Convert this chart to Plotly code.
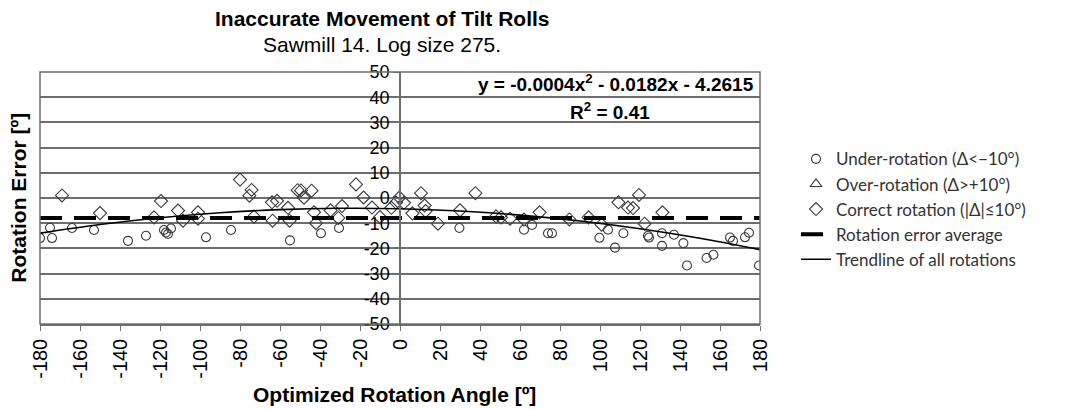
import plotly.graph_objects as go

# Under-rotation points (circles)
under_x = [-180, -175, -174, -164, -153, -136, -127, -118, -117, -116, -114.5, -97, -84.5,
           -55, -39.5, -30.5, 29.7, 62, 66, 74, 76, 99.7, 104, 107.5, 111.7, 124, 124.5,
           131, 131, 137, 141.7, 143.5, 153.3, 156.7, 165, 166.5, 172.5, 174.5, 179.5]
under_y = [-15.9, -11.8, -15.9, -11.9, -12.7, -17, -15, -12.7, -13.7, -14.3, -12.1, -15.6, -12.7,
           -16.8, -14, -11.9, -11.9, -12.6, -10.7, -14, -14, -15.8, -12.6, -19.7, -14, -15, -15.7,
           -14, -19, -14.6, -17.9, -26.8, -23.8, -22.5, -15.7, -17, -15.6, -13.8, -26.8]

# Over-rotation points (triangles) - none in this sample
over_x = [None]
over_y = [None]

# Correct rotation points (diamonds)
correct_x = [-169, -150, -123, -119.5, -111, -108.5, -101, -101, -80, -75.3, -74.2, -73,
             -64, -63.7, -61.5, -56, -55.2, -51.2, -49.5, -48, -44.2, -43, -42, -34.7,
             -30.8, -29, -22, -18.2, -14, -10, -4.3, -2, -0.3, 2, 6.2, 10.5, 12.3, 12.8,
             19, 30, 37.7, 48, 50.5, 55, 62, 69.8, 84.7, 94.3, 100.8, 109.2, 114, 116.5,
             119.5, 122.3, 131.2]
correct_y = [1.0, -6.0, -7.7, -1.2, -5.0, -9.0, -5.7, -8.2, 7.3, 0.9, 3.2, -7.4,
             -1.7, -9.0, -1.1, -3.9, -9.0, 3.1, 3.0, 0.1, 2.9, -5.7, -10.0, -4.9,
             -7.9, -3.2, 5.4, 0.2, -3.8, -7.6, -3.9, -1.8, 0.2, -1.9, -6.1, 1.9, -3.0, -5.2,
             -10.2, -4.9, 1.9, -7.3, -7.7, -8.2, -8.5, -5.7, -8.5, -7.7, -10.6, -1.7, -3.8, -4.0,
             1.2, -10.2, -5.7]

avg_error = -7.9
avg_x = [-180, 180]

trend_x = [-180, -150, -120, -90, -60, -30, 0, 30, 60, 90, 120, 150, 180]
trend_y = [-13.95, -10.53, -7.84, -5.86, -4.61, -4.08, -4.26, -5.17, -6.79, -9.14, -12.2, -15.99, -20.5]

x_ticks = list(range(-180, 181, 20))
y_ticks = list(range(-50, 51, 10))

MARK = "#3a3a3a"
GRID = "#6e6e6e"
AXFONT = "Liberation Sans, Arial, sans-serif"
LEGFONT = "Lato, Noto Sans, sans-serif"

fig = go.Figure()

fig.add_trace(go.Scatter(
    x=under_x, y=under_y, mode="markers", name="Under-rotation (\u0394<\u221210\u00b0)",
    legendgroup="a",
    marker=dict(symbol="circle-open", size=9, color=MARK, line=dict(width=1.1)),
))
fig.add_trace(go.Scatter(
    x=over_x, y=over_y, mode="markers", name="Over-rotation (\u0394>+10\u00b0)",
    legendgroup="b",
    marker=dict(symbol="triangle-up-open", size=10, color=MARK, line=dict(width=1.1)),
))
fig.add_trace(go.Scatter(
    x=correct_x, y=correct_y, mode="markers", name="Correct rotation (|\u0394|\u226410\u00b0)",
    legendgroup="c",
    marker=dict(symbol="diamond-open", size=10, color=MARK, line=dict(width=1.1)),
))
fig.add_trace(go.Scatter(
    x=avg_x, y=[avg_error, avg_error], mode="lines", name="Rotation error average",
    legendgroup="d",
    line=dict(color="black", width=4, dash="22px,12px"),
))
fig.add_trace(go.Scatter(
    x=trend_x, y=trend_y, mode="lines", name="Trendline of all rotations",
    legendgroup="e", line_shape="spline",
    line=dict(color="black", width=1.6),
))

# plot frame
fig.add_shape(type="rect", xref="x domain", yref="y domain", x0=0, x1=1, y0=0, y1=1,
              line=dict(color=GRID, width=1.5))

fig.add_annotation(
    x=178, y=45.5, xref="x", yref="y", xanchor="right", yanchor="middle", showarrow=False,
    text="<b>y = -0.0004x<sup>2</sup> - 0.0182x - 4.2615</b>",
    font=dict(family=AXFONT, size=19, color="black"),
)
fig.add_annotation(
    x=105, y=34.5, xref="x", yref="y", xanchor="center", yanchor="middle", showarrow=False,
    text="<b>R<sup>2</sup> = 0.41</b>",
    font=dict(family=AXFONT, size=19, color="black"),
)

# titles
fig.add_annotation(
    x=0.475, y=1.214, xref="paper", yref="paper", showarrow=False,
    xanchor="center", yanchor="middle",
    text="<b>Inaccurate Movement of Tilt Rolls</b>",
    font=dict(family=AXFONT, size=21, color="black"),
)
fig.add_annotation(
    x=0.475, y=1.111, xref="paper", yref="paper", showarrow=False,
    xanchor="center", yanchor="middle",
    text="Sawmill 14. Log size 275.",
    font=dict(family=AXFONT, size=21, color="black"),
)
fig.add_annotation(
    x=-0.031, y=0.5, xref="paper", yref="paper", textangle=-90, showarrow=False,
    xanchor="center", yanchor="middle",
    text="<b>Rotation Error [\u00ba]</b>",
    font=dict(family=AXFONT, size=21, color="black"),
)
fig.add_annotation(
    x=0.492, y=-0.278, xref="paper", yref="paper", showarrow=False,
    xanchor="center", yanchor="middle",
    text="<b>Optimized Rotation Angle [\u00ba]</b>",
    font=dict(family=AXFONT, size=21, color="black"),
)

fig.update_layout(
    width=1070, height=409,
    paper_bgcolor="white", plot_bgcolor="white",
    margin=dict(l=32, r=318, t=64, b=93),
    showlegend=True,
    legend=dict(
        x=1.05, xanchor="left", y=0.725, yanchor="top",
        font=dict(family=LEGFONT, size=17, color="#333333"),
        tracegroupgap=0, itemwidth=30, bgcolor="rgba(0,0,0,0)",
    ),
    xaxis=dict(
        range=[-180, 180], tickvals=x_ticks, ticktext=[str(v) for v in x_ticks],
        tickangle=-90, ticks="outside", ticklen=5, tickcolor=GRID,
        showgrid=False, zeroline=False, showline=True, linecolor=GRID, linewidth=1.5,
        tickfont=dict(family=AXFONT, size=20, color="black"),
    ),
    yaxis=dict(
        range=[-50, 50], tickvals=y_ticks, ticktext=[str(v) for v in y_ticks],
        anchor="free", position=0.5, ticks="outside", ticklen=6, tickcolor=GRID,
        showgrid=True, gridcolor=GRID, gridwidth=1.5, zeroline=False,
        showline=True, linecolor=GRID, linewidth=1.5,
        tickfont=dict(family=AXFONT, size=18, color="black"),
    ),
)

fig.write_html("out.html")
